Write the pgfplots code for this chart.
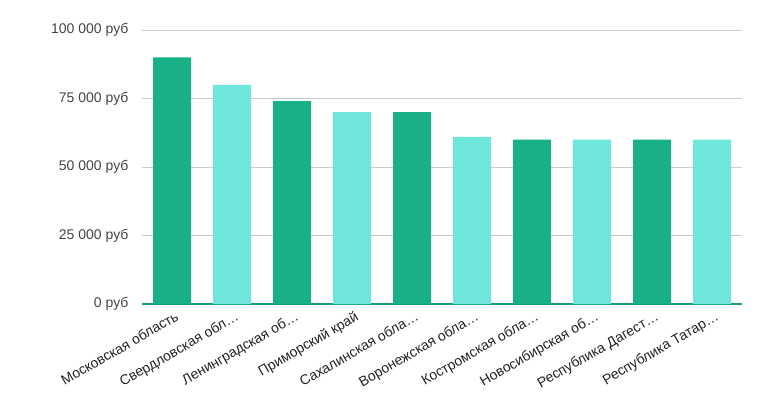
\documentclass[border=0pt]{standalone}
\usepackage{pgfplots}
\pgfplotsset{compat=1.18}
\usepackage{fontspec}
\setmainfont{Liberation Sans}
\definecolor{darkbar}{HTML}{17B087}
\definecolor{lightbar}{HTML}{6FE6DA}
\definecolor{gridc}{HTML}{CCCCCC}
\definecolor{basec}{HTML}{1B9E80}
\definecolor{ylab}{HTML}{444444}
\definecolor{xlab}{HTML}{222222}
\begin{document}
\begin{tikzpicture}[x=1pt,y=1pt]
\useasboundingbox (0,0) rectangle (764,392);
\begin{axis}[
  at={(142pt,88pt)}, anchor=south west,
  scale only axis, width=600pt, height=274pt,
  xmin=-0.5, xmax=9.5, ymin=0, ymax=100000,
  scaled y ticks=false,
  clip=false,
  axis line style={draw=none},
  tick style={draw=none},
  ymajorgrids, grid style={gridc, line width=0.8pt},
  ytick={0,25000,50000,75000,100000},
  yticklabels={0 руб,25 000 руб,50 000 руб,75 000 руб,100 000 руб},
  yticklabel style={font=\fontsize{14}{16}\selectfont, text=ylab, xshift=-10pt},
  xtick={0,...,9},
  xticklabels={Московская область,Свердловская обл…,Ленинградская об…,Приморский край,Сахалинская обла…,Воронежская обла…,Костромская обла…,Новосибирская об…,Республика Дагест…,Республика Татар…},
  xticklabel style={font=\fontsize{14}{16}\selectfont, text=xlab, rotate=30, anchor=north east, inner sep=1pt, xshift=2pt, yshift=-2pt},
  /pgf/number format/assume math mode=true,
  extra y ticks={0}, extra y tick labels={},
  extra y tick style={grid style={basec, line width=1.3pt}},
  ybar, bar width=38pt, bar shift=0pt,
]
\addplot[fill=darkbar, draw=none] coordinates {(0,90000) (2,74000) (4,70000) (6,60000) (8,60000)};
\addplot[fill=lightbar, draw=none] coordinates {(1,80000) (3,70000) (5,61000) (7,60000) (9,60000)};
\end{axis}
\end{tikzpicture}
\end{document}
